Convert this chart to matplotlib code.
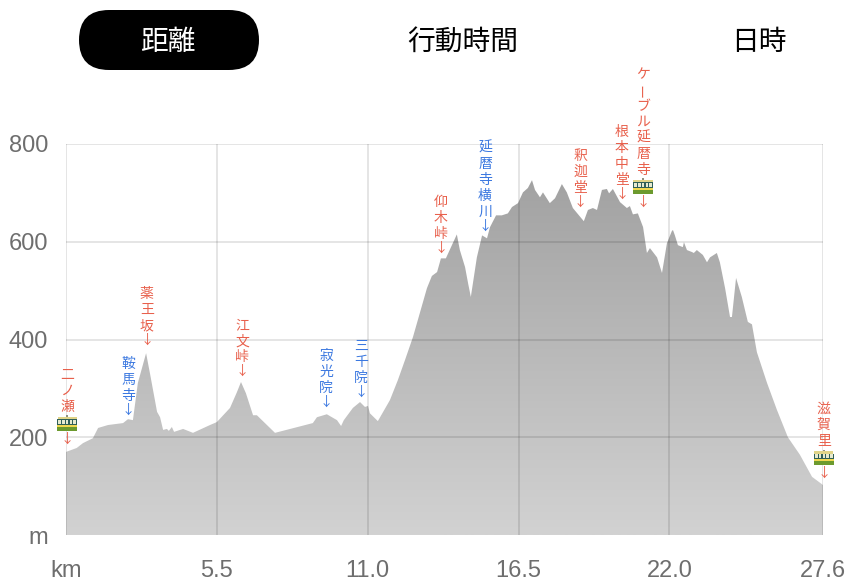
import numpy as np
import matplotlib
matplotlib.use("Agg")
import matplotlib.pyplot as plt
from matplotlib.patches import FancyBboxPatch, Rectangle, Polygon
from matplotlib.offsetbox import DrawingArea, AnnotationBbox

CJK = ['Noto Sans CJK JP', 'DejaVu Sans']
LATIN = ['Liberation Sans', 'DejaVu Sans']

dist_km = [0,0.39,0.62,0.98,1.17,1.53,2.08,2.26,2.44,2.62,2.92,3.06,3.32,3.43,3.54,3.68,3.75,3.86,3.94,4.27,4.63,5.25,5.5,
 5.98,6.23,6.38,6.56,6.82,6.96,7.62,9.0,9.15,9.51,9.88,10.03,10.13,10.46,10.72,10.9,11.01,11.08,11.37,11.81,12.1,12.36,
 12.65,12.9,13.16,13.34,13.53,13.67,13.85,14.07,14.25,14.36,14.55,14.66,14.76,14.98,15.17,15.35,15.46,15.68,15.89,16.11,16.26,
 16.48,16.66,16.84,16.99,17.1,17.28,17.39,17.64,17.83,18.08,18.26,18.48,18.88,19.03,19.21,19.36,19.54,19.72,19.8,19.94,
 20.2,20.45,20.56,20.67,20.85,21.04,21.18,21.29,21.55,21.73,21.91,22.09,22.13,22.2,22.31,22.49,22.53,22.64,22.82,22.89,
 23.0,23.22,23.37,23.48,23.73,23.84,24.03,24.21,24.28,24.43,24.64,24.86,25.01,25.19,25.56,25.92,26.32,26.76,27.2,27.56,27.6]
elev_m = [170,178,188,198,219,225,229,237,235,311,372,331,252,241,215,217,213,221,211,217,209,225,231,
 260,292,313,290,245,245,209,229,241,247,235,223,235,260,272,262,264,249,233,276,317,358,
 405,454,505,530,538,566,566,593,615,583,548,515,487,568,613,607,630,654,654,658,671,
 679,701,710,726,706,691,701,679,689,718,701,669,642,665,669,665,706,708,699,708,
 681,669,673,656,658,630,577,587,568,536,597,622,624,613,593,589,599,583,579,577,
 583,573,558,568,577,558,505,446,446,526,487,436,431,374,311,256,200,164,119,104,102]

y_ticks = [0,200,400,600,800]
y_labels = ['m','200','400','600','800']
x_ticks = [0,5.5,11.0,16.5,22.0,27.6]
x_labels = ['km','5.5','11.0','16.5','22.0','27.6']

place_names = ['二ノ瀬','鞍馬寺','薬王坂','江文峠','寂光院','三千院','仰木峠','延暦寺横川','釈迦堂','根本中堂','ケーブル延暦寺','滋賀里']
place_km = [0.04,2.26,2.95,6.42,9.48,10.76,13.67,15.28,18.74,20.27,21.04,27.63]
place_tip_m = [182,241,384,321,258,278,573,618,667,683,667,112]
place_color = ['#e8604c','#3b78e0','#e8604c','#e8604c','#3b78e0','#3b78e0','#e8604c','#3b78e0','#e8604c','#e8604c','#e8604c','#e8604c']
place_train = [1,0,0,0,0,0,0,0,0,0,1,1]

tabs = ['距離','行動時間','日時']
tab_x_px = [168,463,759]

W,H = 854,584
fig = plt.figure(figsize=(W/100,H/100),dpi=100)
ax = fig.add_axes([66/W,1-535/H,757/W,391/H])
ax.set_xlim(0,27.6); ax.set_ylim(0,800)
ax.set_xticks(x_ticks); ax.set_xticklabels(x_labels,fontfamily=LATIN,fontsize=17,color='#6e6e6e')
ax.set_yticks(y_ticks); ax.set_yticklabels(y_labels,fontfamily=LATIN,fontsize=17,color='#6e6e6e')
ax.tick_params(length=0,pad=18,axis='x'); ax.tick_params(length=0,pad=13,axis='y')
for s in ax.spines.values(): s.set_visible(False)

grad = np.linspace(0,1,256).reshape(-1,1)
cm = matplotlib.colors.LinearSegmentedColormap.from_list('g',['#d2d2d2','#a2a2a2'])
im = ax.imshow(grad,extent=[0,27.6,0,730],origin='lower',aspect='auto',cmap=cm,zorder=1)
poly = Polygon(list(zip(dist_km,elev_m))+[(27.6,0),(0,0)],closed=True,transform=ax.transData,fc='none',ec='none')
ax.add_patch(poly); im.set_clip_path(poly)
ax.set_xlim(0,27.6); ax.set_ylim(0,800)

for v in y_ticks[1:]:
    ax.axhline(v,color='black',alpha=0.12,lw=1.2,zorder=3)
for v in x_ticks:
    ax.axvline(v,color='black',alpha=0.12,lw=1.2,zorder=3)

def train():
    d = DrawingArea(15,11,0,0)
    d.add_artist(Rectangle((0.3,0),14.4,2.6,fc='#6c9a2e',ec='none'))
    d.add_artist(Rectangle((0.3,2.6),14.4,1.6,fc='#f0d850',ec='none'))
    d.add_artist(Rectangle((0.3,4.2),14.4,4,fc='#2f5f58',ec='none'))
    for i in range(5):
        d.add_artist(Rectangle((1.2+i*2.7,4.8),1.8,2.8,fc='#e6ead0',ec='none'))
    d.add_artist(Rectangle((0.6,8.2),13.8,1.6,fc='#e0d488',ec='none'))
    d.add_artist(Rectangle((7,9.8),1,1.2,fc='#909080',ec='none'))
    return d

for name,km,m,c,t in zip(place_names,place_km,place_tip_m,place_color,place_train):
    xy=(km,m)
    ax.annotate('↓',xy,xytext=(0,7*0.72),textcoords='offset points',ha='center',va='center',
                fontsize=9.5,color=c,fontfamily=CJK,annotation_clip=False,zorder=5)
    y = 7
    if t:
        y += 16
        ab = AnnotationBbox(train(),xy,xybox=(0,y*0.72),xycoords='data',boxcoords='offset points',frameon=False,
                            annotation_clip=False,zorder=5,pad=0)
        ax.add_artist(ab)
        y += 16
    else:
        y += 14
    for ch in reversed(name):
        ax.annotate(ch,xy,xytext=(0,y*0.72),textcoords='offset points',ha='center',va='center',
                    fontsize=10,color=c,fontfamily=CJK,annotation_clip=False,zorder=5,
                    rotation=90 if ch=='ー' else 0)
        y += 16

pill = FancyBboxPatch((109,H-40),120,0,boxstyle='round,pad=30,rounding_size=30',transform=None,fc='black',ec='none')
fig.add_artist(pill)
for i,(tab,x) in enumerate(zip(tabs,tab_x_px)):
    fig.text(x/W,1-42/H,tab,ha='center',va='center',fontsize=20,fontfamily=CJK,color='white' if i==0 else 'black')

fig.savefig('out.png',dpi=100)
